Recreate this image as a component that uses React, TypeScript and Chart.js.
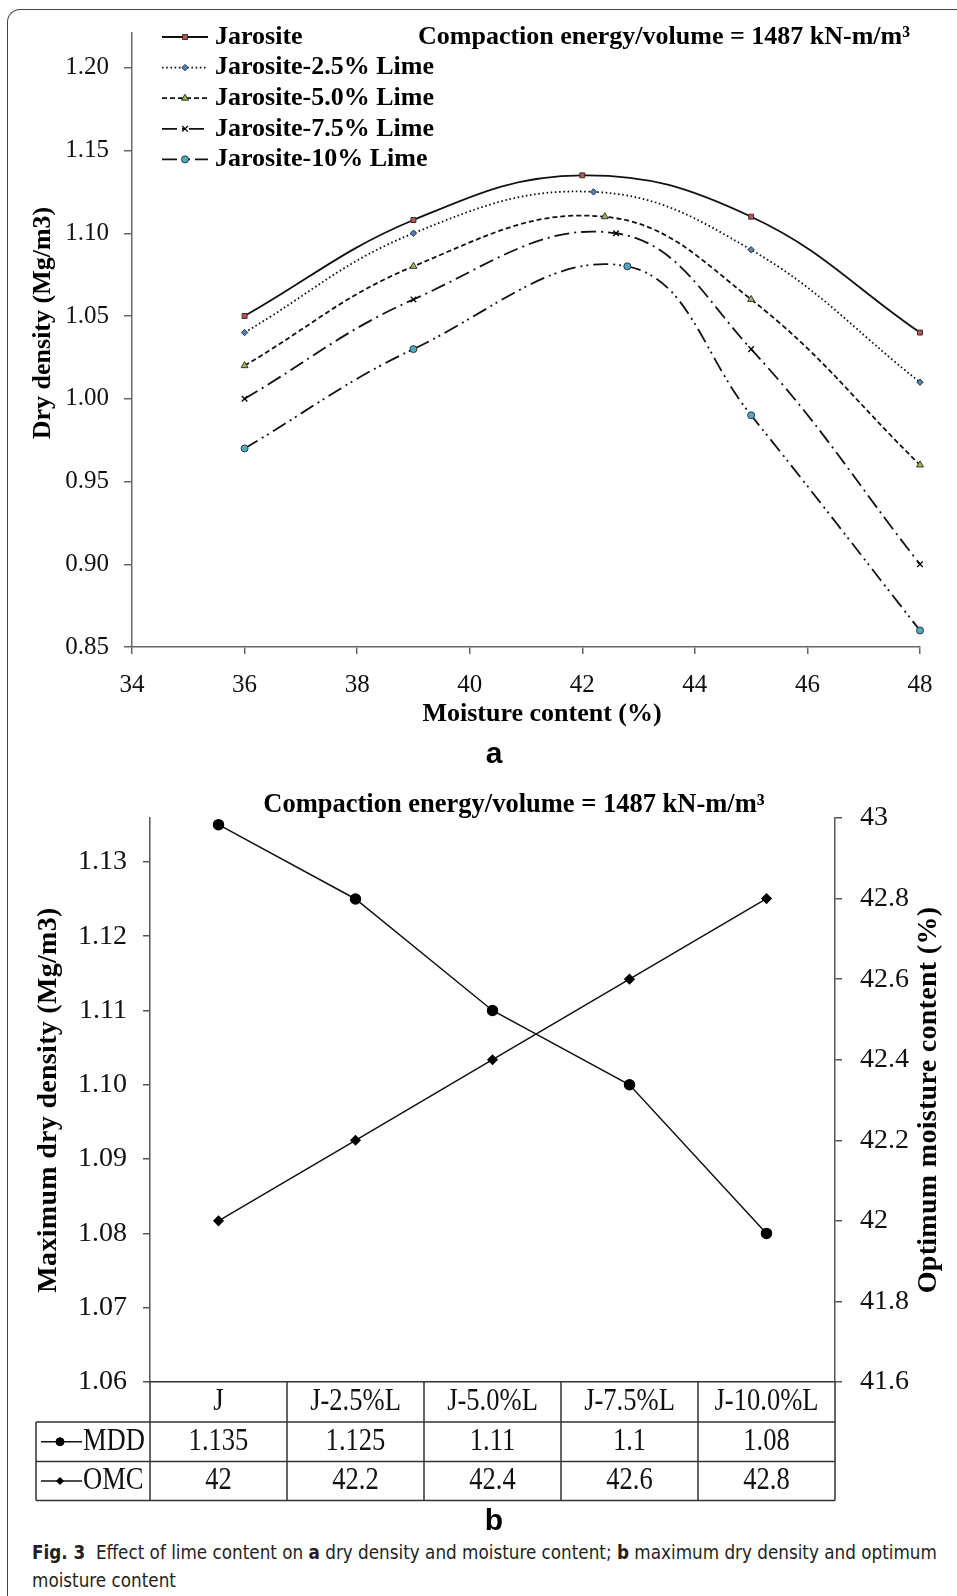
import React, { useEffect, useRef } from 'react';
import { Chart, registerables } from 'chart.js';

Chart.register(...registerables);

const SERIF = '"Liberation Serif", "Times New Roman", serif';

// ---------- Panel a data ----------
const seriesNames = ['Jarosite', 'Jarosite-2.5% Lime', 'Jarosite-5.0% Lime', 'Jarosite-7.5% Lime', 'Jarosite-10% Lime'];
const moistureJ = [36, 39, 42, 45, 48];
const densityJ = [1.05, 1.108, 1.135, 1.11, 1.04];
const moisture25 = [36, 39, 42.2, 45, 48];
const density25 = [1.04, 1.1, 1.125, 1.09, 1.01];
const moisture50 = [36, 39, 42.4, 45, 48];
const density50 = [1.02, 1.08, 1.11, 1.06, 0.96];
const moisture75 = [36, 39, 42.6, 45, 48];
const density75 = [1.0, 1.06, 1.1, 1.03, 0.9];
const moisture10 = [36, 39, 42.8, 45, 48];
const density10 = [0.97, 1.03, 1.08, 0.99, 0.86];
const xTicksA = [34, 36, 38, 40, 42, 44, 46, 48];
const yTicksA = [0.85, 0.9, 0.95, 1.0, 1.05, 1.1, 1.15, 1.2];
const titleText = 'Compaction energy/volume = 1487 kN-m/m³';
const xTitleA = 'Moisture content (%)';
const yTitleA = 'Dry density (Mg/m3)';

// ---------- Panel b data ----------
const limeCategories = ['J', 'J-2.5%L', 'J-5.0%L', 'J-7.5%L', 'J-10.0%L'];
const mddValues = [1.135, 1.125, 1.11, 1.1, 1.08];
const omcValues = [42, 42.2, 42.4, 42.6, 42.8];
const mddTicks = [1.06, 1.07, 1.08, 1.09, 1.1, 1.11, 1.12, 1.13];
const omcTicks = [41.6, 41.8, 42, 42.2, 42.4, 42.6, 42.8, 43];
const seriesNamesB = ['MDD', 'OMC'];
const yTitleB = 'Maximum dry density (Mg/m3)';
const y1TitleB = 'Optimum moisture content (%)';

// styles per series (panel a)
const seriesStyles = [
  { dash: [], point: 'rect', radius: 3.5, fill: '#c0504d' },
  { dash: [1.6, 2.6], point: 'rectRot', radius: 3.2, fill: '#4f81bd' },
  { dash: [5, 3], point: 'triangle', radius: 4, fill: '#9bbb59' },
  { dash: [15, 5, 2, 5], point: 'crossRot', radius: 4, fill: '#000' },
  { dash: [15, 5, 2, 4, 2, 5], point: 'circle', radius: 3.5, fill: '#4bacc6' },
];

function drawMarker(ctx: CanvasRenderingContext2D, style: string, x: number, y: number, r: number, fill: string, stroke: string, lw = 1) {
  ctx.save();
  ctx.setLineDash([]);
  ctx.fillStyle = fill;
  ctx.strokeStyle = stroke;
  ctx.lineWidth = lw;
  ctx.beginPath();
  if (style === 'rect') {
    const s = r * Math.SQRT2;
    ctx.rect(x - s / 2, y - s / 2, s, s);
  } else if (style === 'rectRot') {
    ctx.moveTo(x, y - r); ctx.lineTo(x + r, y); ctx.lineTo(x, y + r); ctx.lineTo(x - r, y); ctx.closePath();
  } else if (style === 'triangle') {
    ctx.moveTo(x, y - r); ctx.lineTo(x + r * 0.866, y + r / 2); ctx.lineTo(x - r * 0.866, y + r / 2); ctx.closePath();
  } else if (style === 'crossRot') {
    const d = r * Math.SQRT1_2;
    ctx.moveTo(x - d, y - d); ctx.lineTo(x + d, y + d);
    ctx.moveTo(x + d, y - d); ctx.lineTo(x - d, y + d);
    ctx.stroke();
    ctx.restore();
    return;
  } else {
    ctx.arc(x, y, r, 0, Math.PI * 2);
  }
  ctx.fill();
  ctx.stroke();
  ctx.restore();
}

function condensedText(ctx: CanvasRenderingContext2D, text: string, x: number, y: number, align: CanvasTextAlign, sx = 0.83) {
  ctx.save();
  ctx.translate(x, y);
  ctx.scale(sx, 1);
  ctx.textAlign = align;
  ctx.textBaseline = 'middle';
  ctx.fillText(text, 0, 0);
  ctx.restore();
}

function rotatedText(ctx: CanvasRenderingContext2D, text: string, x: number, y: number, spacing = 0) {
  ctx.save();
  ctx.translate(x, y);
  ctx.rotate(-Math.PI / 2);
  ctx.textAlign = 'center';
  ctx.textBaseline = 'middle';
  (ctx as any).letterSpacing = spacing + 'px';
  ctx.fillText(text, 0, 0);
  ctx.restore();
}

export default function App() {
  const refA = useRef<HTMLCanvasElement>(null);
  const refB = useRef<HTMLCanvasElement>(null);

  useEffect(() => {
    document.body.style.margin = '0';
    const xs = [moistureJ, moisture25, moisture50, moisture75, moisture10];
    const ys = [densityJ, density25, density50, density75, density10];

    const panelAPlugin = {
      id: 'panelA',
      afterDraw(chart: any) {
        const ctx: CanvasRenderingContext2D = chart.ctx;
        ctx.save();
        chart.data.datasets.forEach((ds: any, i: number) => {
          const y = 37 + i * 30.6;
          ctx.save();
          ctx.strokeStyle = '#111';
          ctx.lineWidth = 1.8;
          ctx.setLineDash(ds.borderDash || []);
          ctx.beginPath();
          ctx.moveTo(162, y);
          ctx.lineTo(208, y);
          ctx.stroke();
          ctx.restore();
          drawMarker(ctx, ds.pointStyle, 185, y, ds.pointRadius, ds.pointBackgroundColor, ds.pointBorderColor, ds.pointBorderWidth);
          ctx.font = `bold 26px ${SERIF}`;
          ctx.fillStyle = '#000';
          ctx.textAlign = 'left';
          ctx.textBaseline = 'middle';
          ctx.fillText(ds.label, 215, y);
        });
        ctx.font = `bold 26px ${SERIF}`;
        ctx.fillStyle = '#000';
        ctx.textAlign = 'left';
        ctx.textBaseline = 'middle';
        ctx.fillText(titleText, 418, 37);
        ctx.textAlign = 'center';
        ctx.fillText(xTitleA, 542, 714);
        rotatedText(ctx, yTitleA, 43, 323);
        ctx.restore();
      },
    };

    const chartA = new Chart(refA.current as HTMLCanvasElement, {
      type: 'line',
      data: {
        datasets: seriesNames.map((name, i) => {
          const st = seriesStyles[i];
          return {
            label: name,
            data: xs[i].map((x, j) => ({ x, y: ys[i][j] })),
            borderColor: '#111',
            borderWidth: 1.8,
            borderDash: st.dash,
            tension: 0.4,
            cubicInterpolationMode: 'default',
            pointStyle: st.point,
            pointRadius: st.radius,
            pointBackgroundColor: st.fill,
            pointBorderColor: st.point === 'crossRot' ? '#000' : '#333',
            pointBorderWidth: st.point === 'crossRot' ? 1.3 : 1,
            clip: false,
            fill: false,
          } as any;
        }),
      },
      options: {
        animation: false,
        responsive: false,
        events: [],
        layout: { padding: { top: 33, right: 37, left: 0, bottom: 0 } },
        plugins: { legend: { display: false }, tooltip: { enabled: false } },
        scales: {
          x: {
            type: 'linear',
            min: 34,
            max: 48,
            afterBuildTicks: (s: any) => { s.ticks = xTicksA.map((v) => ({ value: v })); },
            afterFit: (s: any) => { s.height = 93; },
            ticks: { font: { family: SERIF, size: 25 }, color: '#111', padding: 16, maxRotation: 0, callback: (v: any) => String(v) },
            grid: { drawOnChartArea: false, drawTicks: true, tickLength: 7, color: '#666', lineWidth: 1.5 },
            border: { display: true, color: '#666', width: 1.5 },
          },
          y: {
            type: 'linear',
            min: 0.85,
            max: 1.221,
            afterBuildTicks: (s: any) => { s.ticks = yTicksA.map((v) => ({ value: v })); },
            afterFit: (s: any) => { s.width = 132; },
            ticks: { font: { family: SERIF, size: 25 }, color: '#111', padding: 15, callback: (v: any) => Number(v).toFixed(2) },
            grid: { drawOnChartArea: false, drawTicks: true, tickLength: 8, color: '#666', lineWidth: 1.5 },
            border: { display: true, color: '#666', width: 1.5 },
          },
        },
      } as any,
      plugins: [panelAPlugin],
    });

    const panelBPlugin = {
      id: 'panelB',
      afterDraw(chart: any) {
        const ctx: CanvasRenderingContext2D = chart.ctx;
        const area = chart.chartArea;
        const xs2 = chart.scales.x;
        ctx.save();
        ctx.fillStyle = '#000';
        ctx.font = `bold 26.5px ${SERIF}`;
        ctx.textAlign = 'center';
        ctx.textBaseline = 'middle';
        ctx.fillText(titleText, 514, 45);
        ctx.font = `bold 28px ${SERIF}`;
        rotatedText(ctx, yTitleB, 49, 340, 0.3);
        rotatedText(ctx, y1TitleB, 929, 340, 0.3);

        // data table
        const L = area.left, R = area.right, top = area.bottom;
        const y1 = top + 40, y2 = top + 79.5, y3 = top + 118.5;
        const keyL = 36;
        ctx.strokeStyle = '#333';
        ctx.lineWidth = 1.5;
        ctx.beginPath();
        [y1, y2, y3].forEach((yy) => { ctx.moveTo(keyL, yy); ctx.lineTo(R, yy); });
        ctx.moveTo(keyL, y1); ctx.lineTo(keyL, y3);
        ctx.moveTo(L, top); ctx.lineTo(L, y3);
        ctx.moveTo(R, top); ctx.lineTo(R, y3);
        for (let i = 0; i < limeCategories.length - 1; i++) {
          const b = (xs2.getPixelForValue(i) + xs2.getPixelForValue(i + 1)) / 2;
          ctx.moveTo(b, top); ctx.lineTo(b, y3);
        }
        ctx.stroke();

        ctx.font = `32px ${SERIF}`;
        ctx.fillStyle = '#111';
        limeCategories.forEach((c, i) => {
          const px = xs2.getPixelForValue(i);
          condensedText(ctx, c, px, (top + y1) / 2, 'center');
          condensedText(ctx, String(mddValues[i]), px, (y1 + y2) / 2, 'center');
          condensedText(ctx, String(omcValues[i]), px, (y2 + y3) / 2, 'center');
        });
        const rows = [(y1 + y2) / 2, (y2 + y3) / 2];
        chart.data.datasets.forEach((ds: any, i: number) => {
          const yy = rows[i];
          ctx.save();
          ctx.strokeStyle = '#111';
          ctx.lineWidth = 1.5;
          ctx.beginPath(); ctx.moveTo(41, yy); ctx.lineTo(82, yy); ctx.stroke();
          ctx.restore();
          drawMarker(ctx, ds.pointStyle, 60, yy, ds.pointStyle === 'circle' ? 4 : 3.5, '#000', '#000');
          ctx.fillStyle = '#111';
          condensedText(ctx, ds.label, 83, yy, 'left');
        });
        ctx.restore();
      },
    };

    const chartB = new Chart(refB.current as HTMLCanvasElement, {
      type: 'line',
      data: {
        labels: limeCategories,
        datasets: [
          {
            label: seriesNamesB[0],
            data: mddValues,
            yAxisID: 'y',
            borderColor: '#111',
            borderWidth: 1.5,
            tension: 0,
            pointStyle: 'circle',
            pointRadius: 5,
            pointBackgroundColor: '#000',
            pointBorderColor: '#000',
            clip: false,
          },
          {
            label: seriesNamesB[1],
            data: omcValues,
            yAxisID: 'y1',
            borderColor: '#111',
            borderWidth: 1.5,
            tension: 0,
            pointStyle: 'rectRot',
            pointRadius: 4.5,
            pointBackgroundColor: '#000',
            pointBorderColor: '#000',
            clip: false,
          },
        ] as any,
      },
      options: {
        animation: false,
        responsive: false,
        events: [],
        layout: { padding: { top: 58, right: 0, left: 0, bottom: 0 } },
        plugins: { legend: { display: false }, tooltip: { enabled: false } },
        scales: {
          x: {
            type: 'category',
            offset: true,
            afterFit: (s: any) => { s.height = 138; },
            ticks: { display: false },
            grid: { drawOnChartArea: false, drawTicks: false },
            border: { display: true, color: '#333', width: 1.5 },
          },
          y: {
            type: 'linear',
            position: 'left',
            min: 1.06,
            max: 1.1359,
            afterBuildTicks: (s: any) => { s.ticks = mddTicks.map((v) => ({ value: v })); },
            afterFit: (s: any) => { s.width = 150; },
            ticks: { font: { family: SERIF, size: 28 }, color: '#111', padding: 16, callback: (v: any) => Number(v).toFixed(2) },
            grid: { drawOnChartArea: false, drawTicks: true, tickLength: 7, color: '#555', lineWidth: 1.5 },
            border: { display: true, color: '#555', width: 1.5 },
          },
          y1: {
            type: 'linear',
            position: 'right',
            min: 41.6,
            max: 43,
            afterBuildTicks: (s: any) => { s.ticks = omcTicks.map((v) => ({ value: v })); },
            afterFit: (s: any) => { s.width = 122; },
            ticks: { font: { family: SERIF, size: 28 }, color: '#111', padding: 18, callback: (v: any) => String(v) },
            grid: { drawOnChartArea: false, drawTicks: true, tickLength: 7, color: '#555', lineWidth: 1.5 },
            border: { display: true, color: '#555', width: 1.5 },
          },
        },
      } as any,
      plugins: [panelBPlugin],
    });

    return () => {
      chartA.destroy();
      chartB.destroy();
    };
  }, []);

  const narrow = '"Liberation Sans Narrow", "DejaVu Sans Condensed", "Liberation Sans", sans-serif';

  return (
    <div style={{ position: 'relative', width: 957, height: 1596, overflow: 'hidden', background: '#fff' }}>
      <div
        style={{
          position: 'absolute', left: 7, top: 9, width: 1000, height: 1700,
          borderLeft: '1.5px solid #444', borderTop: '1.5px solid #444', borderTopLeftRadius: 13,
        }}
      />
      <canvas ref={refA} width={957} height={740} style={{ position: 'absolute', left: 0, top: 0 }} />
      <canvas ref={refB} width={957} height={760} style={{ position: 'absolute', left: 0, top: 760 }} />
      <div style={{ position: 'absolute', left: 494, top: 753, transform: 'translate(-50%, -50%)', font: 'bold 30px "Liberation Sans", Arial, sans-serif', color: '#000' }}>a</div>
      <div style={{ position: 'absolute', left: 494, top: 1520, transform: 'translate(-50%, -50%)', font: 'bold 30px "Liberation Sans", Arial, sans-serif', color: '#000' }}>b</div>
      <div style={{ position: 'absolute', left: 32, top: 1539, fontFamily: narrow, fontSize: 18.7, lineHeight: '28px', whiteSpace: 'nowrap', color: '#231f20' }}>
        <b>Fig. 3</b>&nbsp; Effect of lime content on <b>a</b> dry density and moisture content; <b>b</b> maximum dry density and optimum
        <br />
        moisture content
      </div>
    </div>
  );
}
